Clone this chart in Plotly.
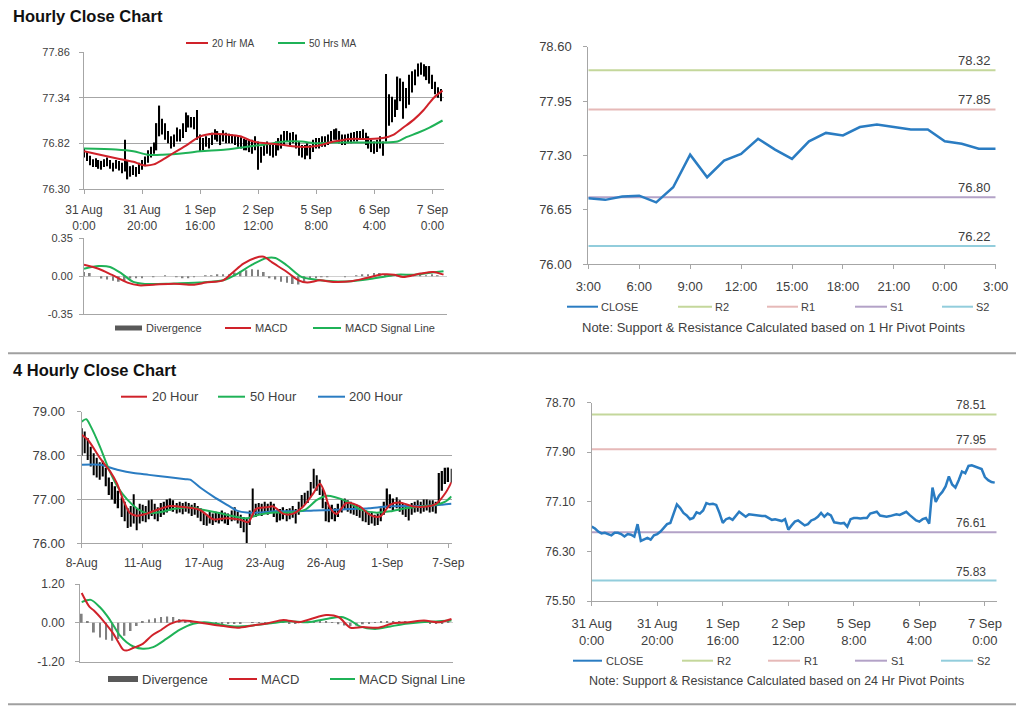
import plotly.graph_objects as go

# page body keeps an 8px margin, so the figure is drawn 8px smaller and shifted
OFF = 8
W, H = 1024 - OFF, 706 - OFF
def px(x): return (x - OFF) / W
def py(y): return 1 - (y - OFF) / H

FONT = "Liberation Sans, Arial, sans-serif"
TXT = "#404040"
AX = "#a6a6a6"
RED = "#d0222a"
GREEN = "#1fb257"
BLUE = "#2a7cc2"
DIVG = "#808080"

# ---------------- DATA ----------------
hourly_ticks = [0, 20, 40, 60, 80, 100, 120]
hourly_tick_labels = ["31 Aug<br>0:00", "31 Aug<br>20:00", "1 Sep<br>16:00", "2 Sep<br>12:00",
                      "5 Sep<br>8:00", "6 Sep<br>4:00", "7 Sep<br>0:00"]

hourly_high = [76.76,76.72,76.68,76.64,76.65,76.63,76.62,76.64,76.66,76.63,
               76.60,76.63,76.62,76.60,76.86,76.62,76.56,76.57,76.55,76.60,
               76.63,76.67,76.74,76.78,76.83,77.05,77.25,77.10,77.05,76.96,
               76.90,76.92,77.00,76.98,77.05,77.17,77.14,77.12,77.12,77.20,
               76.92,76.88,76.90,76.88,76.94,76.98,76.96,76.92,76.97,76.94,
               76.93,76.92,76.91,76.90,76.89,76.87,76.86,76.86,76.86,76.90,
               76.84,76.78,76.83,76.84,76.82,76.80,76.84,76.88,76.92,76.96,
               76.96,76.94,76.95,76.92,76.84,76.80,76.80,76.82,76.80,76.86,
               76.88,76.88,76.90,76.90,76.92,76.96,76.98,76.99,76.96,76.92,
               76.92,76.93,76.94,76.95,76.96,76.96,76.98,76.94,76.90,76.86,
               76.84,76.86,76.90,76.84,77.61,77.38,77.35,77.32,77.58,77.56,
               77.52,77.45,77.60,77.64,77.66,77.73,77.74,77.72,77.70,77.70,
               77.60,77.52,77.46,77.44]
hourly_low = [76.66,76.62,76.57,76.55,76.55,76.53,76.52,76.55,76.56,76.53,
              76.50,76.53,76.51,76.48,76.50,76.41,76.44,76.46,76.44,76.47,
              76.52,76.56,76.60,76.66,76.70,76.74,76.90,76.92,76.86,76.82,
              76.76,76.78,76.84,76.84,76.88,76.95,77.00,77.00,76.98,76.86,
              76.72,76.74,76.78,76.76,76.80,76.86,76.84,76.80,76.84,76.82,
              76.82,76.82,76.80,76.78,76.76,76.74,76.74,76.72,76.70,76.74,
              76.52,76.60,76.68,76.70,76.68,76.66,76.68,76.74,76.76,76.80,
              76.84,76.80,76.82,76.76,76.68,76.66,76.64,76.68,76.64,76.72,
              76.76,76.76,76.78,76.78,76.80,76.84,76.86,76.86,76.82,76.80,
              76.80,76.82,76.82,76.84,76.84,76.86,76.86,76.80,76.76,76.72,
              76.70,76.72,76.76,76.68,76.84,77.02,77.06,77.12,77.20,77.30,
              77.10,77.22,77.26,77.40,77.48,77.58,77.60,77.58,77.54,77.50,
              77.44,77.38,77.34,77.30]
hourly_close = [76.70,76.67,76.62,76.59,76.60,76.58,76.56,76.60,76.60,76.58,
                76.54,76.58,76.57,76.54,76.74,76.47,76.50,76.52,76.49,76.56,
                76.58,76.62,76.68,76.74,76.76,76.90,77.06,77.00,76.92,76.88,
                76.82,76.84,76.93,76.91,76.96,77.08,77.06,77.07,77.05,76.92,
                76.76,76.82,76.84,76.81,76.88,76.94,76.90,76.86,76.90,76.89,
                76.88,76.88,76.87,76.87,76.84,76.81,76.82,76.80,76.79,76.82,
                76.65,76.72,76.78,76.80,76.76,76.72,76.74,76.80,76.82,76.86,
                76.92,76.86,76.91,76.88,76.77,76.76,76.75,76.76,76.70,76.82,
                76.84,76.84,76.83,76.84,76.84,76.91,76.92,76.94,76.88,76.87,
                76.86,76.87,76.88,76.90,76.89,76.91,76.94,76.89,76.85,76.80,
                76.78,76.82,76.84,76.75,77.33,77.10,77.20,77.26,77.35,77.51,
                77.38,77.33,77.45,77.59,77.56,77.68,77.69,77.67,77.64,77.63,
                77.50,77.45,77.42,77.41]

ma20_hr_x = [0, 5.5, 11, 17, 20.5, 24, 27.4, 30.8, 35.4, 40, 44.6, 49, 53.8, 58.4, 63, 68.7,
             74.5, 80, 86, 91.7, 97.5, 103, 106.7, 110, 113.6, 117, 120.5, 123.5]
ma20_hr = [76.73, 76.69, 76.65, 76.61, 76.57, 76.58, 76.64, 76.71, 76.80, 76.90, 76.93, 76.92,
           76.90, 76.84, 76.82, 76.80, 76.78, 76.79, 76.84, 76.87, 76.87, 76.88, 76.92, 77.00,
           77.09, 77.20, 77.34, 77.42]
ma50_hr_x = [0, 11, 17, 22, 27, 35, 40, 49, 58, 63, 69, 75, 80, 86, 92, 97, 103, 108, 111, 115, 119, 123.5]
ma50_hr = [76.76, 76.75, 76.73, 76.69, 76.69, 76.71, 76.73, 76.75, 76.79, 76.81, 76.84, 76.84,
           76.82, 76.83, 76.83, 76.83, 76.83, 76.84, 76.89, 76.94, 77.00, 77.08]
hr_ma_names = ["20 Hr MA", "50 Hrs MA"]

macd_hr_x = [0, 5, 9.5, 15, 19, 24, 31, 38, 42, 48, 51.5, 55, 59, 62, 65, 70, 74, 77, 81.4, 86,
             92, 97.5, 103, 107, 110, 116, 120.5, 124]
macd_hr = [0.107, 0.07, 0.015, -0.058, -0.083, -0.077, -0.068, -0.077, -0.058, -0.037, 0.04,
           0.117, 0.169, 0.18, 0.126, 0.04, -0.037, -0.058, -0.037, -0.052, -0.046, -0.015,
           0.018, 0.015, -0.006, 0.025, 0.04, 0.015]
signal_hr_x = [0, 5, 9, 13, 17, 21, 30, 40, 48, 53, 58, 63, 66, 70, 75, 80, 86, 92, 98, 103,
               108, 114, 120, 124]
signal_hr = [0.07, 0.095, 0.086, 0.025, -0.052, -0.07, -0.068, -0.058, -0.037, 0.025, 0.107,
             0.169, 0.169, 0.10, -0.006, -0.031, -0.046, -0.046, -0.028, -0.006, 0.015, 0.015,
             0.034, 0.046]
div_hr_x = list(range(0, 124, 2))
div_hr = [0.04, 0.03, 0.0, -0.02, -0.03, -0.04, -0.05, -0.04, -0.02, -0.01,
          -0.01, 0.0, -0.005, 0.0, 0.005, 0.0, -0.005, -0.01, -0.01, -0.005,
          0.0, 0.005, 0.005, 0.01, 0.01, 0.02, 0.035, 0.045, 0.055, 0.065,
          0.06, 0.04, -0.01, -0.03, -0.05, -0.06, -0.07, -0.075, -0.05, -0.02,
          -0.01, -0.005, -0.005, 0.0, 0.0, -0.005, 0.0, 0.005, 0.01, 0.02,
          0.03, 0.03, 0.02, 0.01, 0.005, 0.0, 0.005, 0.005, 0.01, 0.005,
          0.01, 0.005]
macd_names = ["Divergence", "MACD", "MACD Signal Line"]

intraday_ticks = [0, 3, 6, 9, 12, 15, 18, 21, 24]
intraday_labels = ["3:00", "6:00", "9:00", "12:00", "15:00", "18:00", "21:00", "0:00", "3:00"]
intraday_close = [76.79, 76.77, 76.81, 76.82, 76.74, 76.92, 77.31, 77.04, 77.24, 77.32, 77.50,
                  77.37, 77.26, 77.47, 77.57, 77.54, 77.64, 77.67, 77.64, 77.61, 77.61, 77.47,
                  77.44, 77.38, 77.38]

pivot_names = ["CLOSE", "R2", "R1", "S1", "S2"]
pivot_1h = [78.32, 77.85, 76.80, 76.22]
pivot_24h = [78.51, 77.95, 76.61, 75.83]
note_1h = "Note: Support & Resistance Calculated based on 1 Hr Pivot Points"
note_24h = "Note: Support & Resistance Calculated based on 24 Hr Pivot Points"

fourh_ticks = [0, 20, 40, 60, 80, 100, 120]
fourh_labels = ["8-Aug", "11-Aug", "17-Aug", "23-Aug", "26-Aug", "1-Sep", "7-Sep"]
fourh_high = [78.62,78.55,78.40,78.20,78.05,77.95,77.85,77.88,77.72,77.50,
              77.40,77.30,77.20,77.05,76.95,76.80,76.85,77.12,76.80,76.90,
              76.88,76.85,76.98,77.00,76.90,76.82,76.92,76.95,77.00,77.02,
              76.98,76.92,76.95,76.92,76.95,76.92,76.88,76.92,76.85,76.80,
              76.70,76.65,76.72,76.68,76.72,76.70,76.75,76.70,76.68,76.75,
              76.82,76.72,76.65,76.60,76.58,76.75,77.25,76.90,76.92,76.90,
              76.95,76.90,76.95,76.90,76.75,76.78,76.82,76.78,76.80,76.85,
              76.78,76.95,77.10,77.15,77.20,77.40,77.70,77.55,77.45,77.25,
              76.95,76.85,76.88,76.80,76.90,77.00,77.02,76.98,76.95,76.90,
              76.88,76.85,76.78,76.75,76.70,76.72,76.65,76.68,76.80,76.95,
              77.25,77.12,77.02,77.05,76.98,76.92,76.88,76.85,76.92,76.95,
              76.98,76.95,77.00,77.00,76.98,76.98,76.95,77.60,77.65,77.72,
              77.73,77.70]
fourh_low = [78.00,78.05,77.90,77.75,77.55,77.50,77.45,77.52,77.30,77.10,
             77.00,76.90,76.80,76.60,76.50,76.35,76.38,76.45,76.30,76.45,
             76.50,76.48,76.55,76.62,76.55,76.50,76.60,76.65,76.70,76.75,
             76.72,76.68,76.70,76.66,76.72,76.68,76.62,76.65,76.58,76.50,
             76.42,76.40,76.45,76.42,76.48,76.45,76.50,76.45,76.42,76.50,
             76.52,76.45,76.35,76.25,76.00,76.42,76.60,76.60,76.65,76.62,
             76.70,76.65,76.72,76.60,76.48,76.52,76.55,76.50,76.55,76.58,
             76.45,76.65,76.82,76.88,76.92,77.05,77.25,77.20,77.10,76.80,
             76.50,76.48,76.55,76.50,76.60,76.70,76.78,76.72,76.68,76.65,
             76.62,76.58,76.50,76.48,76.42,76.45,76.40,76.42,76.50,76.65,
             76.80,76.80,76.75,76.80,76.72,76.65,76.60,76.52,76.65,76.70,
             76.72,76.68,76.72,76.75,76.70,76.72,76.68,76.90,77.20,77.35,
             77.40,77.38]

ma20_4h_x = [0, 2, 6, 9.3, 11.5, 14, 15.8, 18, 21, 24.5, 29, 34, 38.7, 43, 47.4, 51.8, 54.5, 57,
             60.5, 62.7, 66, 69, 72.5, 75.8, 78, 79.6, 81, 83.4, 86.7, 91, 94.3, 97.6, 101, 104,
             108.5, 113, 116, 119, 121]
ma20_4h = [78.47, 78.36, 77.94, 77.64, 77.37, 76.92, 76.69, 76.63, 76.67, 76.76, 76.85, 76.82,
           76.76, 76.55, 76.57, 76.54, 76.48, 76.78, 76.82, 76.84, 76.67, 76.67, 76.84, 77.14,
           77.36, 77.14, 76.84, 76.67, 76.92, 76.84, 76.65, 76.61, 76.88, 76.93, 76.84, 76.84,
           76.90, 77.14, 77.39]
ma50_4h_x = [0, 1.5, 3, 6, 9, 12, 15, 18, 21, 25, 30, 35, 40, 45, 50, 54, 58, 63, 68, 73, 77,
             80, 83, 87, 91, 96, 101, 106, 111, 116, 119, 121]
ma50_4h = [78.77, 78.83, 78.66, 78.20, 77.67, 77.26, 76.99, 76.80, 76.69, 76.70, 76.78, 76.82,
           76.76, 76.69, 76.61, 76.57, 76.65, 76.70, 76.70, 76.76, 76.99, 77.08, 77.05, 76.95,
           76.78, 76.70, 76.73, 76.80, 76.84, 76.88, 76.95, 77.07]
ma200_4h_x = [0, 6, 12, 17, 22, 28, 34, 35.5, 39, 43, 47, 51, 54, 58, 63, 70, 76, 82, 88, 94,
              100, 106, 112, 118, 121]
ma200_4h = [77.79, 77.79, 77.67, 77.60, 77.56, 77.51, 77.46, 77.45, 77.26, 77.07, 76.90, 76.74,
            76.70, 76.70, 76.73, 76.73, 76.75, 76.76, 76.78, 76.80, 76.84, 76.85, 76.85, 76.88,
            76.90]
fourh_ma_names = ["20 Hour", "50 Hour", "200 Hour"]

macd_4h_x = [0, 2.5, 4, 7, 10.4, 12, 13.6, 15, 17, 20, 23, 26, 29, 33, 36, 40, 45, 51, 56, 61,
             66, 71, 75, 80, 84, 88, 92, 97, 102, 107, 112, 117, 121]
macd_4h = [0.92, 0.50, 0.38, 0.07, -0.34, -0.60, -0.83, -0.85, -0.77, -0.65, -0.39, -0.22,
           -0.03, 0.07, 0.05, -0.01, -0.08, -0.15, -0.08, -0.01, 0.09, 0.02, 0.12, 0.24, 0.18,
           -0.15, -0.13, -0.15, -0.01, 0.02, 0.07, 0.02, 0.12]
signal_4h_x = [0, 3, 6, 8.2, 10.4, 12.5, 14.7, 16.9, 20, 23.4, 27.8, 32, 36.5, 40, 44, 50, 56,
               62, 68, 74, 80, 85, 88, 91, 96, 101, 106, 111, 116, 121]
signal_4h = [0.64, 0.71, 0.48, 0.23, -0.08, -0.39, -0.60, -0.73, -0.80, -0.75, -0.49, -0.22,
             -0.03, 0.02, -0.03, -0.11, -0.08, -0.01, 0.05, 0.02, 0.12, 0.18, 0.07, -0.11, -0.19,
             -0.11, -0.03, 0.02, 0.04, 0.07]
div_4h_x = list(range(0, 122, 2))
div_4h = [0.28, 0.05, -0.30, -0.45, -0.52, -0.55, -0.50, -0.40, -0.25, -0.10,
          0.05, 0.10, 0.14, 0.18, 0.20, 0.18, 0.12, 0.06, 0.03, 0.01,
          -0.01, -0.02, -0.03, -0.03, -0.02, -0.03, -0.02, 0.0, 0.01, 0.01,
          0.02, 0.02, 0.03, 0.03, -0.02, -0.03, 0.02, 0.04, 0.05, 0.06,
          0.05, 0.02, -0.04, -0.08, -0.10, -0.08, -0.04, -0.02, 0.02, 0.04,
          0.05, 0.05, 0.04, 0.03, 0.02, 0.01, 0.01, -0.02, -0.03, -0.02,
          0.03]

pivot_colors = ["#c4d79b", "#e6b9b8", "#b3a2c7", "#92cddc"]

# ---------------- FIGURE ----------------
fig = go.Figure()

def hilo(xa, ya, highs, lows, width):
    fig.add_trace(go.Bar(x=list(range(len(highs))), y=[h - l for h, l in zip(highs, lows)],
                         base=lows, width=width, marker=dict(color="black", line=dict(width=0)),
                         xaxis=xa, yaxis=ya, showlegend=False, hoverinfo="skip"))

def line(xa, ya, x, y, color, width=2, shape="spline"):
    fig.add_trace(go.Scatter(x=x, y=y, mode="lines", xaxis=xa, yaxis=ya, showlegend=False,
                             line=dict(color=color, width=width, shape=shape, smoothing=0.8)))

def hist(xa, ya, x, y, width):
    fig.add_trace(go.Bar(x=x, y=y, width=width, marker=dict(color=DIVG, line=dict(width=0)),
                         xaxis=xa, yaxis=ya, showlegend=False))

# top-left hourly
hilo("x", "y", hourly_high, hourly_low, 0.42)
line("x", "y", ma50_hr_x, ma50_hr, GREEN)
line("x", "y", ma20_hr_x, ma20_hr, RED)
# top macd
hist("x2", "y2", div_hr_x, div_hr, 0.6)
line("x2", "y2", signal_hr_x, signal_hr, GREEN)
line("x2", "y2", macd_hr_x, macd_hr, RED)
# top right
for lvl, c in zip(pivot_1h, pivot_colors):
    line("x3", "y3", [intraday_ticks[0], intraday_ticks[-1]], [lvl, lvl], c, 2, "linear")
line("x3", "y3", list(range(len(intraday_close))), intraday_close, BLUE, 2.5, "linear")
# bottom-left 4 hourly
hilo("x4", "y4", fourh_high, fourh_low, 0.45)
line("x4", "y4", ma200_4h_x, ma200_4h, BLUE)
line("x4", "y4", ma50_4h_x, ma50_4h, GREEN)
line("x4", "y4", ma20_4h_x, ma20_4h, RED)
# bottom macd
hist("x5", "y5", div_4h_x, div_4h, 0.6)
line("x5", "y5", signal_4h_x, signal_4h, GREEN)
line("x5", "y5", macd_4h_x, macd_4h, RED)
# bottom right
for lvl, c in zip(pivot_24h, pivot_colors):
    line("x6", "y6", [0, 123.6], [lvl, lvl], c, 2, "linear")
line("x6", "y6", list(range(len(hourly_close))), hourly_close, BLUE, 2.5, "linear")

def xax(dom, rng, anchor, tickvals=None, ticktext=None, size=12, standoff=6, show=True):
    d = dict(domain=[px(dom[0]), px(dom[1])], range=rng, anchor=anchor, showgrid=False,
             zeroline=False, showline=True, linecolor=AX, linewidth=1, fixedrange=True,
             automargin=False)
    if show:
        d.update(tickmode="array", tickvals=tickvals, ticktext=ticktext, ticks="outside",
                 ticklen=4, tickcolor=AX, tickfont=dict(family=FONT, size=size, color=TXT),
                 ticklabelstandoff=standoff)
    else:
        d.update(showticklabels=False, ticks="")
    return d

def yax(dom, rng, anchor, tickvals, fmt, size=11, grid=False, standoff=6, zero=False):
    return dict(domain=[py(dom[1]), py(dom[0])], range=rng, anchor=anchor,
                tickmode="array", tickvals=tickvals, ticktext=[fmt.format(v) for v in tickvals],
                showgrid=grid, gridcolor=AX, gridwidth=1, zeroline=zero,
                zerolinecolor="#d0d0d0", zerolinewidth=1,
                showline=True, linecolor=AX, linewidth=1, ticks="outside", ticklen=4,
                tickcolor=AX, tickfont=dict(family=FONT, size=size, color=TXT),
                ticklabelstandoff=standoff, fixedrange=True, automargin=False)

layout = dict(
    width=W, height=H, autosize=False,
    margin=dict(l=0, r=0, t=0, b=0, pad=0, autoexpand=False),
    paper_bgcolor="white", plot_bgcolor="white", barmode="overlay", showlegend=False,
    font=dict(family=FONT, color=TXT),
    xaxis=xax((84, 444), [0, 124], "y", hourly_ticks, hourly_tick_labels, 12, 6),
    yaxis=yax((52, 189), [76.30, 77.86], "x", [76.30, 76.82, 77.34, 77.86], "{:.2f}", 11, True, 7),
    xaxis2=xax((84, 447), [0, 125.2], "y2", show=False),
    yaxis2=yax((238.3, 314.3), [-0.35, 0.35], "x2", [-0.35, 0.0, 0.35], "{:.2f}", 11, True, 4, True),
    xaxis3=xax((588.3, 995.7), [0, 24], "y3", intraday_ticks, intraday_labels, 13, 6),
    yaxis3=yax((46.7, 264.3), [76.00, 78.60], "x3", [76.00, 76.65, 77.30, 77.95, 78.60], "{:.2f}", 13, False, 9),
    xaxis4=xax((81.7, 451.7), [0, 121.1], "y4", fourh_ticks, fourh_labels, 12, 4),
    yaxis4=yax((411.7, 543.3), [76.00, 79.00], "x4", [76.0, 77.0, 78.0, 79.0], "{:.2f}", 13, True, 9),
    xaxis5=xax((80, 453), [-0.55, 121.5], "y5", show=False),
    yaxis5=yax((584, 661.7), [-1.2, 1.2], "x5", [-1.2, 0.0, 1.2], "{:.2f}", 12, True, 8, True),
    xaxis6=xax((591.7, 996.7), [0, 123.6], "y6", hourly_ticks, hourly_tick_labels, 13, 6),
    yaxis6=yax((402.7, 601), [75.50, 78.70], "x6", [75.5, 76.3, 77.1, 77.9, 78.7], "{:.2f}", 12, False, 9),
)
fig.update_layout(**layout)

shapes = []
annotations = []

def text(x, y, s, size, anchor="left", bold=False, color=TXT):
    annotations.append(dict(xref="paper", yref="paper", x=px(x), y=py(y), text=f"<b>{s}</b>" if bold else s,
                            showarrow=False, xanchor=anchor, yanchor="middle",
                            font=dict(family=FONT, size=size, color=color)))

def lseg(x0, x1, y, color, width=2):
    shapes.append(dict(type="line", xref="paper", yref="paper", x0=px(x0), x1=px(x1),
                       y0=py(y), y1=py(y), line=dict(color=color, width=width)))

def box(x0, x1, y, color, h=5):
    shapes.append(dict(type="rect", xref="paper", yref="paper", x0=px(x0), x1=px(x1),
                       y0=py(y + h / 2), y1=py(y - h / 2), line=dict(width=0), fillcolor=color))

# section titles and separators
text(10.5, 16, "Hourly Close Chart", 16.5, bold=True, color="#111111")
text(10.5, 370, "4 Hourly Close Chart", 16.5, bold=True, color="#111111")
lseg(8, 1024, 353.3, "#a0a0a0", 2)
lseg(8, 1024, 704.3, "#a0a0a0", 2)

# top-left legend
lseg(186, 208, 43, RED); text(210, 43, hr_ma_names[0], 10)
lseg(278, 305, 43, GREEN); text(307, 43, hr_ma_names[1], 10)
# top macd legend
box(115, 142, 328, "#595959"); text(144, 328, macd_names[0], 11)
lseg(225, 251, 328, RED); text(253, 328, macd_names[1], 11)
lseg(313, 341, 328, GREEN); text(343, 328, macd_names[2], 11)
# top-right legend
leg_top = [(567, 598), (678, 712), (767, 798), (855, 887), (942, 973)]
leg_colors = [BLUE] + pivot_colors
for (a, b), c, n in zip(leg_top, leg_colors, pivot_names):
    lseg(a, b, 306.7, c, 2); text(b + 1, 306.7, n, 11)
text(773, 327.3, note_1h, 13, anchor="center")
# bottom-left legend
lseg(121, 147, 396.7, RED); text(150, 396.7, fourh_ma_names[0], 13)
lseg(218, 245, 396.7, GREEN); text(248, 396.7, fourh_ma_names[1], 13)
lseg(318, 345, 396.7, BLUE); text(347, 396.7, fourh_ma_names[2], 13)
# bottom macd legend
box(108, 138, 679, "#595959", 6); text(140, 679, macd_names[0], 13)
lseg(229, 257, 679, RED); text(259, 679, macd_names[1], 13)
lseg(330, 355, 679, GREEN); text(357, 679, macd_names[2], 13)
# bottom-right legend
leg_bot = [(573, 602), (682, 713), (768, 800), (855, 887), (941, 973)]
for (a, b), c, n in zip(leg_bot, leg_colors, pivot_names):
    lseg(a, b, 660.7, c, 2); text(b + 2, 660.7, n, 11)
text(776.7, 681, note_24h, 12.5, anchor="center")

# pivot labels
for lvl in pivot_1h:
    annotations.append(dict(xref="x3", yref="y3", x=intraday_ticks[-1], y=lvl, text=f"{lvl:.2f}",
                            showarrow=False, xanchor="right", yanchor="bottom", xshift=-3, yshift=0,
                            font=dict(family=FONT, size=13, color=TXT)))
for lvl in pivot_24h:
    annotations.append(dict(xref="x6", yref="y6", x=123.6, y=lvl, text=f"{lvl:.2f}",
                            showarrow=False, xanchor="right", yanchor="bottom", xshift=-9, yshift=0,
                            font=dict(family=FONT, size=12, color=TXT)))

fig.update_layout(shapes=shapes, annotations=annotations)
fig.write_html("out.html")
